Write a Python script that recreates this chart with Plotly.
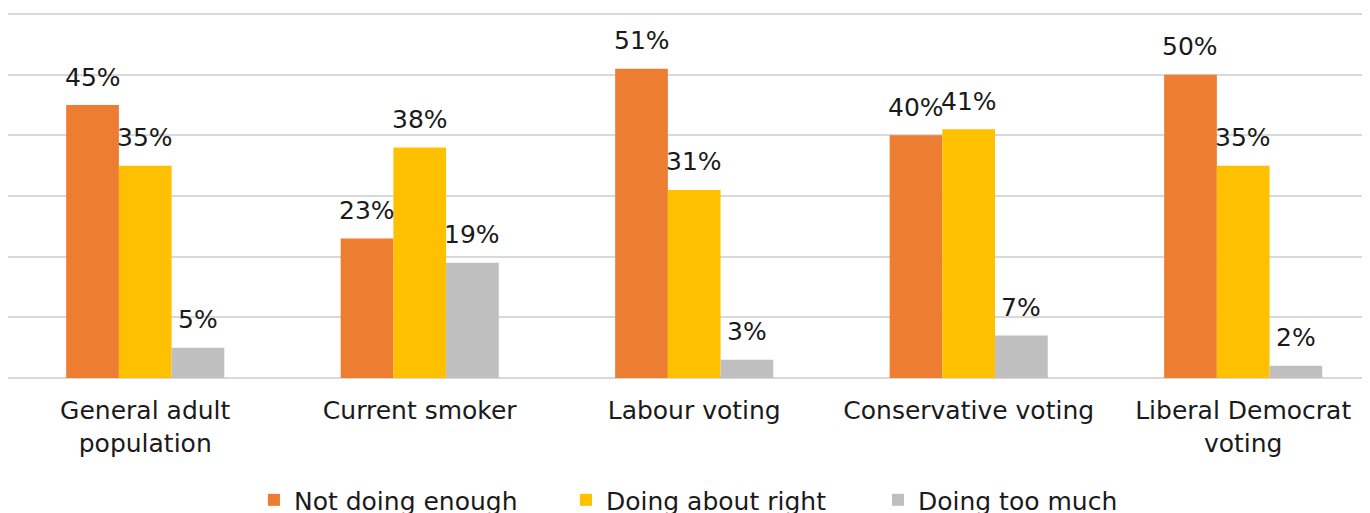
import plotly.graph_objects as go

categories = ["General adult<br>population", "Current smoker", "Labour voting",
              "Conservative voting", "Liberal Democrat<br>voting"]
not_enough = [45, 23, 51, 40, 50]
about_right = [35, 38, 31, 41, 35]
too_much = [5, 19, 3, 7, 2]

series = [
    ("Not doing enough", not_enough, "#ED7D31"),
    ("Doing about right", about_right, "#FFC000"),
    ("Doing too much", too_much, "#BFBFBF"),
]

FONT = "DejaVu Sans"
TXT = "#1a1a1a"
FS = 25
xs = list(range(len(categories)))
bar_w = 0.192

fig = go.Figure()
annotations = []
for j, (name, vals, color) in enumerate(series):
    off = (j - 1) * bar_w
    fig.add_trace(go.Bar(
        x=[x + off for x in xs], y=vals, name=name, width=bar_w,
        marker=dict(color=color, line=dict(width=0)),
        hoverinfo="skip",
    ))
    for x, v in zip(xs, vals):
        annotations.append(dict(
            x=x + off, y=v, xref="x", yref="y", text=f"{v}%", showarrow=False,
            yanchor="middle", yshift=28, font=dict(family=FONT, size=FS, color=TXT),
        ))

fig.update_layout(
    width=1370, height=513,
    margin=dict(l=0, r=8, t=3, b=143, autoexpand=False),
    paper_bgcolor="white", plot_bgcolor="white",
    barmode="overlay",
    font=dict(family=FONT, size=FS, color=TXT),
    annotations=annotations,
    showlegend=True,
    legend=dict(orientation="h", x=0.5242, xanchor="center", y=-0.27, yanchor="top",
                font=dict(family=FONT, size=FS, color=TXT), traceorder="normal",
                entrywidth=267, itemclick=False, itemdoubleclick=False),
    xaxis=dict(tickmode="array", tickvals=xs, ticktext=categories,
               range=[-0.5, 4.462], showgrid=False, zeroline=False, showline=False,
               ticks="", ticklabelstandoff=15, tickfont=dict(family=FONT, size=FS, color=TXT)),
    yaxis=dict(range=[0, 60.5], tickvals=[10, 20, 30, 40, 50, 60], showticklabels=False,
               showgrid=True, gridcolor="#d9d9d9", gridwidth=1.5, zeroline=True,
               zerolinecolor="#d9d9d9", zerolinewidth=1.5, ticks=""),
)

fig.write_html("out.html")
